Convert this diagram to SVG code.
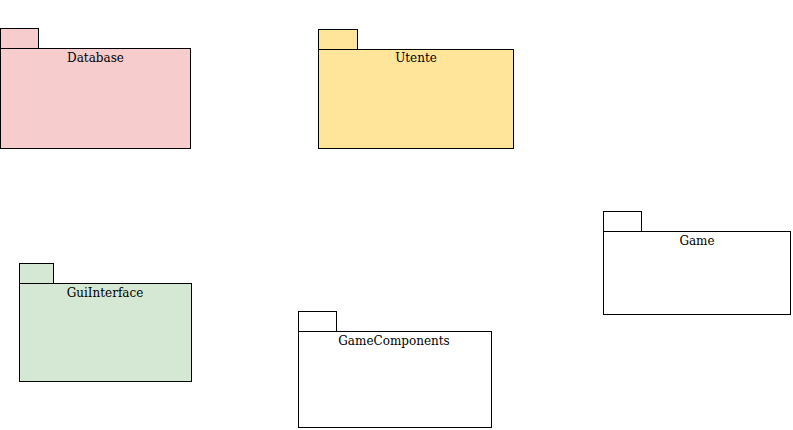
<svg xmlns="http://www.w3.org/2000/svg" width="793" height="430" viewBox="0 0 793 430">
<style>
.pk{stroke:#000;stroke-width:1}
.lbl{font-family:"DejaVu Serif",serif;font-size:12px;fill:#000;text-anchor:middle}
</style>
<rect width="793" height="430" fill="#fff"/>
<g id="connectors"></g>
<g id="Database">
<rect class="pk" x="0.5" y="28.5" width="38" height="20" fill="#f6cdcc"/>
<rect class="pk" x="0.5" y="48.5" width="190" height="100" fill="#f6cdcc"/>
<text class="lbl" x="95.5" y="62">Database</text>
</g>
<g id="Utente">
<rect class="pk" x="318.5" y="29.5" width="39" height="20" fill="#fee599"/>
<rect class="pk" x="318.5" y="49.5" width="195" height="99" fill="#fee599"/>
<text class="lbl" x="416" y="62">Utente</text>
</g>
<g id="Game">
<rect class="pk" x="603.5" y="211.5" width="38" height="20" fill="#fff"/>
<rect class="pk" x="603.5" y="231.5" width="187" height="83" fill="#fff"/>
<text class="lbl" x="697" y="245">Game</text>
</g>
<g id="GameComponents">
<rect class="pk" x="298.5" y="311.5" width="38" height="20" fill="#fff"/>
<rect class="pk" x="298.5" y="331.5" width="193" height="96" fill="#fff"/>
<text class="lbl" x="394" y="345">GameComponents</text>
</g>
<g id="GuiInterface">
<rect class="pk" x="19.5" y="263.5" width="34" height="20" fill="#d5e8d4"/>
<rect class="pk" x="19.5" y="283.5" width="172" height="98" fill="#d5e8d4"/>
<text class="lbl" x="105" y="297">GuiInterface</text>
</g>
</svg>
